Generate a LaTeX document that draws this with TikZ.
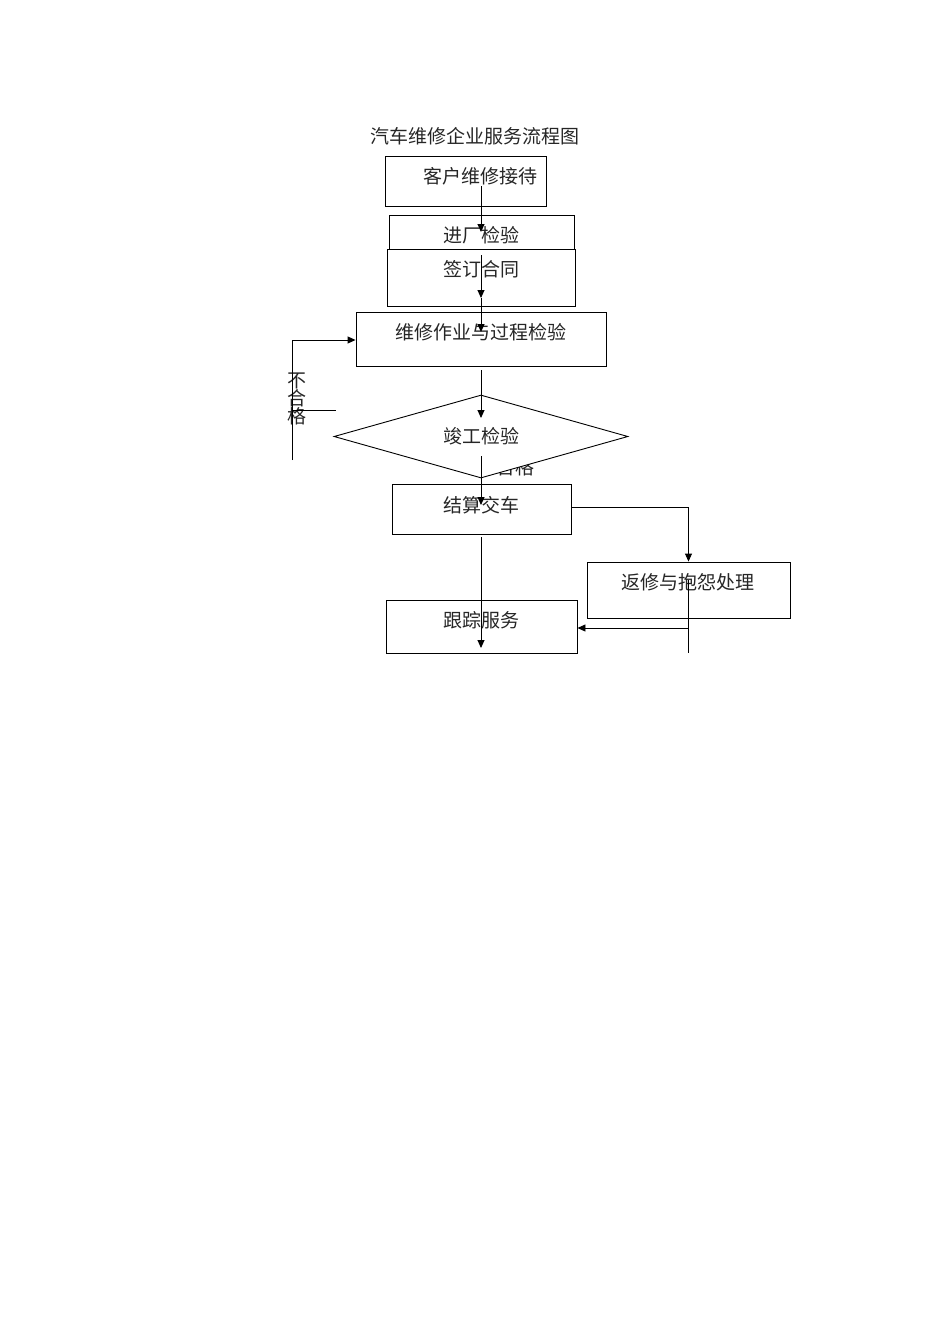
\documentclass[tikz,border=0pt]{standalone}
\usepackage{fontspec}
\newfontfamily\cjk{Noto Sans CJK SC}
\usetikzlibrary{shapes.geometric,arrows.meta}
\begin{document}
\begin{tikzpicture}[x=1pt,y=-1pt,
  box/.style={draw,fill=white,line width=0.9pt,inner sep=0},
  lbl/.style={font=\cjk\fontsize{19}{19}\selectfont,text=black!85},
  arr/.style={line width=0.9pt,-{Triangle[length=8pt,width=7pt]}},
  ln/.style={line width=0.9pt}]
\useasboundingbox (0,0) rectangle (950,1344);
\node[lbl] (title) at (475,136) {汽车维修企业服务流程图};
\node[lbl] (hege) at (515,467) {合格};
\node[box,minimum width=161,minimum height=50] (b1) at (465.5,181) {};
\node[box,minimum width=185,minimum height=36] (b2) at (481.5,233) {};
\node[box,minimum width=188,minimum height=57] (b3) at (481,277.5) {};
\node[box,minimum width=250,minimum height=54] (b4) at (481,339) {};
\node[box,diamond,aspect=3.54,minimum width=294,minimum height=83] (d) at (481,436.5) {};
\node[box,minimum width=179,minimum height=50] (b5) at (481.5,509) {};
\node[box,minimum width=203,minimum height=56] (b6) at (688.5,590) {};
\node[box,minimum width=191,minimum height=53] (b7) at (481.5,626.5) {};
\node[lbl] (t1) at (480,176) {客户维修接待};
\node[lbl] (t2) at (481,235) {进厂检验};
\node[lbl] (t3) at (481,269) {签订合同};
\node[lbl] (t4) at (481,332) {维修作业与过程检验};
\node[lbl] (t5) at (481,436) {竣工检验};
\node[lbl] (t6) at (481,505) {结算交车};
\node[lbl] (t7) at (688,582) {返修与抱怨处理};
\node[lbl] (t8) at (481,620) {跟踪服务};
\node[lbl,align=center,inner sep=0] (bh) at (297,399) {不\\[-1pt]合\\[-1pt]格};
\coordinate (a0) at (481,186); \coordinate (a1) at (481,232);
\draw[arr] (a0) -- (a1);
\coordinate (a2) at (481,255); \coordinate (a3) at (481,298);
\draw[arr] (a2) -- (a3);
\coordinate (a4) at (481,332);
\draw[arr] (a3) -- (a4);
\coordinate (a5) at (481,370); \coordinate (a6) at (481,418);
\draw[arr] (a5) -- (a6);
\coordinate (a7) at (481,456); \coordinate (a8) at (481,505);
\draw[arr] (a7) -- (a8);
\coordinate (a9) at (481,537); \coordinate (a10) at (481,648);
\draw[arr] (a9) -- (a10);
\coordinate (l0) at (292,460); \coordinate (l1) at (292,340);
\draw[ln] (l0) -- (l1);
\draw[arr] (l1) -- (b4.west |- l1);
\coordinate (l2) at (292,410); \coordinate (l3) at (336,410);
\draw[ln] (l2) -- (l3);
\draw[arr] (b5.east |- 0,507) -| (b6.north);
\coordinate (r0) at (688,580); \coordinate (r1) at (688,653);
\draw[ln] (r0) -- (r1);
\coordinate (r2) at (688,628);
\draw[arr] (r2) -- (b7.east |- r2);
\end{tikzpicture}
\end{document}
